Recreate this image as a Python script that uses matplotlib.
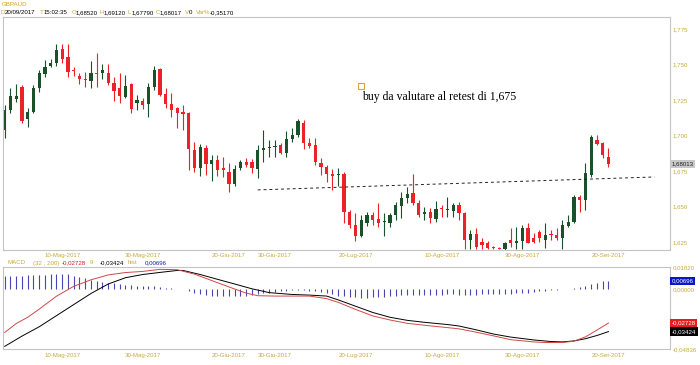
import numpy as np
import pandas as pd
import matplotlib
matplotlib.use('Agg')
import matplotlib.pyplot as plt

plt.rcParams['font.family'] = ['Liberation Sans', 'DejaVu Sans']

# GBPAUD daily candles, 26 Apr 2017 -> 20 Sep 2017
dates = pd.bdate_range('2017-04-26', '2017-09-20')

opens = [1.7039, 1.7180, 1.7257, 1.7342, 1.7116, 1.7166, 1.7335, 1.7433, 1.7489, 1.7511,
         1.7609, 1.7553, 1.7461, 1.7419, 1.7394, 1.7384, 1.7440, 1.7440, 1.7440, 1.7370,
         1.7335, 1.7271, 1.7363, 1.7229, 1.7243, 1.7222, 1.7342, 1.7468, 1.7292, 1.7222,
         1.7194, 1.7166, 1.7159, 1.6898, 1.6771, 1.6912, 1.6799, 1.6828, 1.6771, 1.6743,
         1.6659, 1.6771, 1.6814, 1.6814, 1.6764, 1.6898, 1.6912, 1.6922, 1.6933, 1.6877,
         1.6975, 1.7004, 1.7088, 1.6947, 1.6933, 1.6807, 1.6778, 1.6729, 1.6722, 1.6729,
         1.6462, 1.6370, 1.6293, 1.6384, 1.6440, 1.6412, 1.6391, 1.6384, 1.6440, 1.6504,
         1.6560, 1.6595, 1.6525, 1.6447, 1.6462, 1.6412, 1.6485, 1.6476, 1.6469, 1.6511,
         1.6455, 1.6264, 1.6307, 1.6250, 1.6243, 1.6215, 1.6208, 1.6200, 1.6264, 1.6243,
         1.6257, 1.6349, 1.6279, 1.6321, 1.6264, 1.6302, 1.6300, 1.6279, 1.6363, 1.6391,
         1.6567, 1.6546, 1.6722, 1.6968, 1.6947, 1.6852]
highs = [1.7215, 1.7335, 1.7363, 1.7356, 1.7194, 1.7356, 1.7461, 1.7532, 1.7539, 1.7644,
         1.7644, 1.7644, 1.7482, 1.7440, 1.7447, 1.7525, 1.7581, 1.7503, 1.7503, 1.7412,
         1.7440, 1.7426, 1.7370, 1.7285, 1.7264, 1.7370, 1.7489, 1.7475, 1.7335, 1.7299,
         1.7201, 1.7215, 1.7166, 1.6954, 1.6940, 1.6933, 1.6863, 1.6863, 1.6849, 1.6807,
         1.6792, 1.6828, 1.6842, 1.6835, 1.6933, 1.7039, 1.6968, 1.6968, 1.6947, 1.7032,
         1.7053, 1.7116, 1.7109, 1.6983, 1.6983, 1.6842, 1.6792, 1.6764, 1.6771, 1.6743,
         1.6476, 1.6455, 1.6440, 1.6462, 1.6462, 1.6525, 1.6455, 1.6455, 1.6532, 1.6602,
         1.6638, 1.6729, 1.6546, 1.6497, 1.6490, 1.6539, 1.6511, 1.6567, 1.6525, 1.6532,
         1.6462, 1.6335, 1.6349, 1.6279, 1.6257, 1.6222, 1.6215, 1.6250, 1.6349, 1.6356,
         1.6370, 1.6384, 1.6314, 1.6335, 1.6384, 1.6335, 1.6349, 1.6405, 1.6440, 1.6581,
         1.6581, 1.6807, 1.7004, 1.7004, 1.6954, 1.6912]
lows = [1.6983, 1.7159, 1.7236, 1.7088, 1.7060, 1.7159, 1.7306, 1.7412, 1.7482, 1.7489,
        1.7511, 1.7412, 1.7419, 1.7363, 1.7342, 1.7335, 1.7342, 1.7398, 1.7356, 1.7243,
        1.7229, 1.7264, 1.7159, 1.7180, 1.7187, 1.7130, 1.7320, 1.7278, 1.7194, 1.7130,
        1.7053, 1.7039, 1.6757, 1.6743, 1.6715, 1.6722, 1.6680, 1.6715, 1.6708, 1.6602,
        1.6645, 1.6757, 1.6778, 1.6736, 1.6701, 1.6814, 1.6849, 1.6849, 1.6870, 1.6849,
        1.6954, 1.6990, 1.6905, 1.6912, 1.6792, 1.6722, 1.6673, 1.6616, 1.6645, 1.6384,
        1.6349, 1.6257, 1.6286, 1.6363, 1.6370, 1.6356, 1.6293, 1.6356, 1.6405, 1.6419,
        1.6525, 1.6511, 1.6426, 1.6405, 1.6384, 1.6391, 1.6426, 1.6426, 1.6426, 1.6405,
        1.6201, 1.6201, 1.6201, 1.6201, 1.6201, 1.6201, 1.6199, 1.6195, 1.6215, 1.6200,
        1.6200, 1.6240, 1.6243, 1.6250, 1.6208, 1.6264, 1.6264, 1.6201, 1.6356, 1.6384,
        1.6462, 1.6476, 1.6708, 1.6933, 1.6842, 1.6779]
closes = [1.7180, 1.7278, 1.7278, 1.7102, 1.7166, 1.7335, 1.7440, 1.7482, 1.7511, 1.7602,
          1.7539, 1.7447, 1.7454, 1.7398, 1.7391, 1.7440, 1.7433, 1.7461, 1.7370, 1.7313,
          1.7278, 1.7349, 1.7187, 1.7250, 1.7215, 1.7342, 1.7461, 1.7285, 1.7222, 1.7180,
          1.7159, 1.7151, 1.6905, 1.6771, 1.6919, 1.6799, 1.6828, 1.6757, 1.6757, 1.6659,
          1.6764, 1.6814, 1.6792, 1.6771, 1.6898, 1.6912, 1.6919, 1.6926, 1.6877, 1.6975,
          1.7004, 1.7102, 1.6947, 1.6926, 1.6814, 1.6778, 1.6729, 1.6715, 1.6729, 1.6462,
          1.6370, 1.6293, 1.6405, 1.6440, 1.6405, 1.6384, 1.6398, 1.6440, 1.6511, 1.6560,
          1.6588, 1.6525, 1.6440, 1.6462, 1.6419, 1.6483, 1.6483, 1.6483, 1.6511, 1.6455,
          1.6264, 1.6307, 1.6215, 1.6229, 1.6208, 1.6205, 1.6203, 1.6243, 1.6243, 1.6257,
          1.6349, 1.6243, 1.6250, 1.6279, 1.6300, 1.6300, 1.6279, 1.6370, 1.6391, 1.6567,
          1.6546, 1.6736, 1.6990, 1.6940, 1.6863, 1.6802]

# dashed support line (date index, price)
trend_idx = [44, 113]
trend_price = [1.6617, 1.6708]

# MACD(32,200) line, signal(9) and histogram
macd_idx = [0, 2, 4, 6, 9, 12, 15, 18, 21, 24, 27, 30, 33, 36, 39, 42, 44, 47, 51, 53,
            56, 58, 61, 64, 67, 70, 73, 77, 79, 82, 85, 88, 92, 94, 97, 99, 101, 103, 105]
macd_val = [-0.0349, -0.0277, -0.0226, -0.0160, -0.0055, 0.0025, 0.0078, 0.0118, 0.0137, 0.0146,
            0.0163, 0.0160, 0.0124, 0.0072, 0.0020, -0.0030, -0.0051, -0.0054, -0.0054, -0.0054,
            -0.0075, -0.0105, -0.0162, -0.0215, -0.0248, -0.0275, -0.0291, -0.0310, -0.0320, -0.0347,
            -0.0377, -0.0408, -0.0426, -0.0431, -0.0431, -0.0420, -0.0385, -0.0330, -0.02728]
signal_idx = [0, 3, 6, 9, 12, 15, 18, 21, 24, 27, 30, 31, 34, 37, 40, 43, 46, 50, 53, 56,
              58, 61, 64, 67, 70, 73, 77, 79, 82, 85, 88, 92, 95, 97, 99, 101, 103, 105]
signal_val = [-0.0462, -0.0379, -0.0303, -0.0213, -0.0123, -0.0033, 0.0044, 0.0095, 0.0121, 0.0138,
              0.0154, 0.0154, 0.0121, 0.0082, 0.0044, 0.0005, -0.0026, -0.0041, -0.0046, -0.0054,
              -0.0085, -0.0136, -0.0187, -0.0226, -0.0251, -0.0267, -0.0285, -0.0297, -0.0328, -0.0362,
              -0.0387, -0.0410, -0.0423, -0.0426, -0.0418, -0.0400, -0.0374, -0.03424]
hist = [0.0110, 0.0112, 0.0113, 0.0113, 0.0115, 0.0117, 0.0118, 0.0120, 0.0125, 0.0128,
        0.0128, 0.0125, 0.0108, 0.0103, 0.0090, 0.0080, 0.0070, 0.0062, 0.0056, 0.0051,
        0.0044, 0.0038, 0.0033, 0.0031, 0.0028, 0.0026, 0.0024, 0.0020, 0.0015, 0.0010,
        0.0006, 0.0002, -0.0015, -0.0025, -0.0035, -0.0045, -0.0050, -0.0053, -0.0055, -0.0056,
        -0.0056, -0.0055, -0.0052, -0.0046, -0.0040, -0.0033, -0.0026, -0.0020, -0.0015, -0.0010,
        -0.0006, -0.0005, -0.0006, -0.0010, -0.0015, -0.0020, -0.0030, -0.0040, -0.0050, -0.0055,
        -0.0060, -0.0064, -0.0066, -0.0066, -0.0063, -0.0060, -0.0058, -0.0056, -0.0053, -0.0048,
        -0.0045, -0.0044, -0.0044, -0.0044, -0.0043, -0.0042, -0.0042, -0.0041, -0.0041, -0.0042,
        -0.0043, -0.0043, -0.0042, -0.0041, -0.0040, -0.0040, -0.0039, -0.0038, -0.0036, -0.0033,
        -0.0030, -0.0026, -0.0021, -0.0016, -0.0011, -0.0006, -0.0003, 0.0002, 0.0006, 0.0012,
        0.0020, 0.0030, 0.0042, 0.0055, 0.0065, 0.00696]

tick_dates = ['2017-05-10', '2017-05-30', '2017-06-20', '2017-06-30',
              '2017-07-20', '2017-08-10', '2017-08-30', '2017-09-20']
tick_labels = ['10-Mag-2017', '30-Mag-2017', '20-Giu-2017', '30-Giu-2017',
               '20-Lug-2017', '10-Ago-2017', '30-Ago-2017', '20-Set-2017']
price_ticks = [1.625, 1.650, 1.675, 1.700, 1.725, 1.750, 1.775]
macd_ticks = [-0.04836, 0.0, 0.01820]
last_price = 1.68013

GOLD = '#c9a93e'
GREEN = '#1b5128'
RED = '#ec2229'
FRAME = '#c4c4c4'
FS = 4.4

def it(v, nd):
    return f'{v:.{nd}f}'.replace('.', ',')

tick_pos = [dates.get_loc(pd.Timestamp(d)) for d in tick_dates]
x = np.arange(len(dates))

fig = plt.figure(figsize=(7, 3.65), dpi=100)
ax = fig.add_axes([3/700, 1-250/365, 667/700, 233/365])
ax2 = fig.add_axes([3/700, 1-349/365, 667/700, 82/365])

# candles
for i in x:
    o, h, l, c = opens[i], highs[i], lows[i], closes[i]
    col = GREEN if c >= o else RED
    ax.vlines(i, l, h, color=col, lw=0.8)
    ax.bar(i, max(abs(c - o), 0.0004), bottom=min(o, c), width=0.55, color=col, lw=0)

ax.plot(trend_idx, trend_price, color='#222222', lw=0.7, ls=(0, (3, 3)))
ax.plot(62, 1.7349, marker='s', ms=4, mfc='none', mec='#e8a030', mew=0.8)
ax.text(62.1, 1.7271, 'buy da valutare al retest di 1,675', family='Liberation Serif',
        size=8.5, va='center', ha='left', color='black')

ax.set_xlim(-0.3, 115.7)
ax.set_ylim(1.6194, 1.7834)
ax.yaxis.tick_right()
ax.set_yticks(price_ticks)
ax.set_yticklabels([it(v, 3) for v in price_ticks])
ax.set_xticks(tick_pos)
ax.set_xticklabels(tick_labels)
ax.tick_params(length=0, labelsize=FS, labelcolor=GOLD, pad=2)
ax.tick_params(axis='x', pad=2.5)
ax.text(1.002, last_price, it(last_price, 5), transform=ax.get_yaxis_transform(),
        fontsize=FS, va='center', ha='left', color='#222222',
        bbox=dict(boxstyle='square,pad=0.25', fc='#c8c8c8', ec='none'))

# MACD panel
ax2.vlines(x, 0, hist, color='#4646b4', lw=0.8)
ax2.plot(signal_idx, signal_val, color='black', lw=0.7)
ax2.plot(macd_idx, macd_val, color='#d04848', lw=0.7)
ax2.set_xlim(-0.3, 115.7)
ax2.set_ylim(macd_ticks[0], macd_ticks[-1])
ax2.yaxis.tick_right()
ax2.set_yticks(macd_ticks)
ax2.set_yticklabels([it(v, 5) for v in macd_ticks])
ax2.set_xticks(tick_pos)
ax2.set_xticklabels(tick_labels)
ax2.tick_params(length=0, labelsize=FS, labelcolor=GOLD, pad=2)
ax2.tick_params(axis='x', pad=3)
tr = ax2.get_yaxis_transform()
for val, fc in [(hist[-1], '#0a14c8'), (macd_val[-1], '#e81c1c'), (signal_val[-1], 'black')]:
    ax2.text(1.002, val, it(val, 5), transform=tr, fontsize=FS, va='center', ha='left',
             color='white', bbox=dict(boxstyle='square,pad=0.3', fc=fc, ec='none'))

for a in (ax, ax2):
    for s in a.spines.values():
        s.set_color(FRAME)
        s.set_linewidth(0.8)

# header lines
fig.text(2/700, 1-5/365, 'GBPAUD', fontsize=FS, color='#e0a020', va='center')
header = [('D', GOLD, 0.5), ('20/09/2017', 'black', 4.5), ('T', GOLD, 40), ('15:02:35', 'black', 43.5),
          ('O', GOLD, 72), ('1,68520', 'black', 76), ('H', GOLD, 100), ('1,69120', 'black', 104),
          ('L', GOLD, 128), ('1,67790', 'black', 131.5), ('C', GOLD, 156), ('1,68017', 'black', 160),
          ('V', GOLD, 185), ('0', 'black', 189), ('Var%', GOLD, 196), ('-0,35170', 'black', 210)]
for txt, col, px in header:
    fig.text(px/700, 1-13/365, txt, fontsize=FS, color=col, va='center')

macd_head = [('MACD', GOLD, 8), ('(32 , 200)', GOLD, 33), (it(macd_val[-1], 5), '#d01c1c', 62),
             ('9', GOLD, 90), (it(signal_val[-1], 5), 'black', 100), ('hist', GOLD, 128),
             (it(hist[-1], 5), '#1a1ab0', 145)]
for txt, col, px in macd_head:
    fig.text(px/700, 1-263/365, txt, fontsize=FS, color=col, va='center')

fig.savefig('out.png', dpi=100, facecolor='white')
